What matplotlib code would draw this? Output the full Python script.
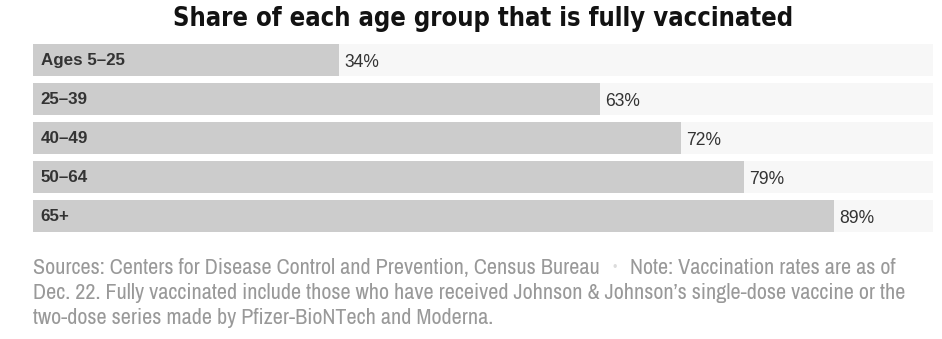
import matplotlib
matplotlib.use("Agg")
import matplotlib.pyplot as plt

groups = ["Ages 5\u201325", "25\u201339", "40\u201349", "50\u201364", "65+"]
shares = [34, 63, 72, 79, 89]

title = "Share of each age group that is fully vaccinated"
source = "Sources: Centers for Disease Control and Prevention, Census Bureau"
note_lines = [
    "Note: Vaccination rates are as of",
    "Dec. 22. Fully vaccinated include those who have received Johnson & Johnson\u2019s single-dose vaccine or the",
    "two-dose series made by Pfizer-BioNTech and Moderna.",
]

W, H = 942, 339
fig = plt.figure(figsize=(W / 100, H / 100), dpi=100)
fig.patch.set_facecolor("white")

narrow = ["Archivo Narrow", "DejaVu Sans"]
sans = ["Liberation Sans", "DejaVu Sans"]


def fit_width(txt, target_px, renderer):
    # scale the font so the text spans about target_px
    w = txt.get_window_extent(renderer).width
    txt.set_fontsize(txt.get_fontsize() * target_px / w)
    return txt.get_fontsize()


# axes placed in pixel space: bars run x=33..933, rows y=40..236
ax = fig.add_axes([33 / W, (H - 235.5) / H, 900 / W, 195 / H])
ax.set_xlim(0, 100)
ax.set_ylim(len(groups) - 0.5, -0.5)
ax.axis("off")

ypos = list(range(len(groups)))
ax.barh(ypos, [100] * len(groups), height=0.82, color="#f7f7f7", linewidth=0)
ax.barh(ypos, shares, height=0.82, color="#cccccc", linewidth=0)

fig.canvas.draw()
r = fig.canvas.get_renderer()

# size the labels from the first one
probe = fig.text(0, 0, groups[0], fontsize=11, fontweight="bold", family=sans)
lab_fs = fit_width(probe, 84, r)
probe.remove()
probe = fig.text(0, 0, f"{shares[0]}%", fontsize=11, family=sans)
val_fs = fit_width(probe, 35, r)
probe.remove()

for y, g, v in zip(ypos, groups, shares):
    ax.annotate(g, (0, y), xytext=(5.5, -0.5), textcoords="offset points",
                ha="left", va="center", fontsize=lab_fs, fontweight="bold",
                color="#333333", family=sans)
    ax.annotate(f"{v}%", (v, y), xytext=(4, -1.5), textcoords="offset points",
                ha="left", va="center", fontsize=val_fs, color="#333333", family=sans)

t = fig.text(483 / W, 1 - 19 / H, title, ha="center", va="center", fontsize=20,
             fontweight="bold", fontstretch="condensed", color="#121212",
             family="DejaVu Sans")
fit_width(t, 623, r)

# footnote
s = fig.text(33 / W, 1 - 268 / H, source, ha="left", va="center", fontsize=13,
             color="#999999", family=narrow)
fs = fit_width(s, 568, r)
bb = s.get_window_extent(r)
fig.text((bb.x1 + 15) / W, 1 - 268 / H, "\u2022", ha="center", va="center",
         fontsize=9, color="#dcdcdc", family=sans)
fig.text((bb.x1 + 30) / W, 1 - 268 / H, note_lines[0], ha="left", va="center",
         fontsize=fs, color="#999999", family=narrow)
for i, line in enumerate(note_lines[1:]):
    fig.text(33 / W, 1 - (293 + 25 * i) / H, line, ha="left", va="center",
             fontsize=fs, color="#999999", family=narrow)

fig.savefig("out.png", dpi=100, facecolor="white")
